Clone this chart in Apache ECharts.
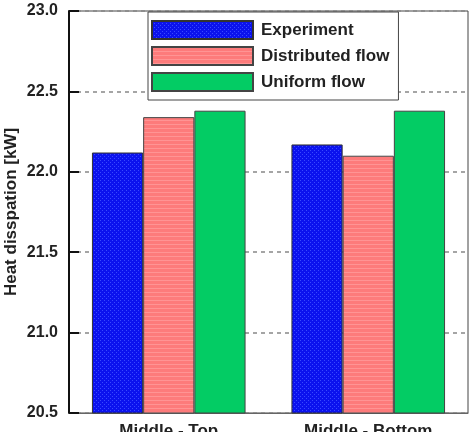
<!DOCTYPE html>
<html>
<head>
<meta charset="utf-8">
<script src="https://cdn.jsdelivr.net/npm/echarts@6/dist/echarts.min.js"></script>
<style>
  html, body { margin: 0; padding: 0; background: #fff; }
  #chart { width: 470px; height: 432px; }
</style>
</head>
<body>
<div id="chart"></div>
<script>
var categories = ['Middle - Top', 'Middle - Bottom']
var seriesNames = ['Experiment', 'Distributed flow', 'Uniform flow']
var experiment = [22.12, 22.17]
var distributed = [22.34, 22.10]
var uniform = [22.38, 22.38]

// small fill patterns like the original hatch
function makePattern(bg, fg, kind) {
    var c = document.createElement('canvas')
    c.width = 4
    c.height = 4
    var ctx = c.getContext('2d')
    ctx.fillStyle = bg
    ctx.fillRect(0, 0, 4, 4)
    ctx.fillStyle = fg
    if (kind === 'dots') {
        ctx.fillRect(0, 0, 1, 1)
        ctx.fillRect(2, 2, 1, 1)
    } else {
        ctx.fillRect(0, 0, 4, 1)
    }
    return c
}

var bluePat = makePattern('#0b12ee', '#3848ff', 'dots')
var pinkPat = makePattern('#fd7b7b', '#ff9494', 'lines')

var font = 'Arial, "Liberation Sans", sans-serif'

var myChart = echarts.init(document.getElementById('chart'))
var option = {
    animation: false,
    textStyle: { fontFamily: font },
    grid: {
        left: 69,
        right: 2,
        top: 11,
        bottom: 19,
        containLabel: false,
        outerBoundsMode: 'none',
        show: true,
        borderColor: '#444',
        borderWidth: 1
    },
    legend: {
        orient: 'vertical',
        left: 148,
        top: 12,
        padding: [8, 9, 8, 3],
        backgroundColor: '#fff',
        borderColor: '#444',
        borderWidth: 1,
        itemWidth: 101,
        itemHeight: 18,
        itemGap: 6,
        icon: 'rect',
        data: seriesNames,
        textStyle: {
            fontSize: 17,
            fontWeight: 'bold',
            lineHeight: 18,
            color: '#222',
            fontFamily: font,
            padding: [0, 0, 0, 3]
        }
    },
    xAxis: {
        type: 'category',
        data: categories,
        axisLine: { lineStyle: { color: '#666', width: 1 } },
        axisTick: { show: false },
        axisLabel: {
            fontSize: 17,
            fontWeight: 'bold',
            color: '#222',
            margin: 10
        }
    },
    yAxis: {
        type: 'value',
        min: 20.5,
        max: 23,
        interval: 0.5,
        name: 'Heat disspation [kW]',
        nameLocation: 'middle',
        nameGap: 49,
        nameMoveOverlap: false,
        nameTextStyle: {
            fontSize: 17,
            fontWeight: 'bold',
            color: '#222'
        },
        axisLine: { show: true, lineStyle: { color: '#111', width: 2 } },
        axisTick: { show: true, inside: true, length: 10, lineStyle: { color: '#111', width: 2 } },
        axisLabel: {
            fontSize: 16,
            fontWeight: 'bold',
            color: '#222',
            margin: 11,
            formatter: function(v) { return v.toFixed(1) }
        },
        splitLine: {
            show: true,
            lineStyle: { color: '#888', type: [4, 4], width: 1.5 }
        }
    },
    series: [{
        name: 'Experiment',
        type: 'bar',
        data: experiment,
        barGap: '0%',
        barCategoryGap: '23%',
        itemStyle: {
            color: { image: bluePat, repeat: 'repeat' },
            borderColor: '#333',
            borderWidth: 1
        }
    }, {
        name: 'Distributed flow',
        type: 'bar',
        data: distributed,
        itemStyle: {
            color: { image: pinkPat, repeat: 'repeat' },
            borderColor: '#444',
            borderWidth: 1
        }
    }, {
        name: 'Uniform flow',
        type: 'bar',
        data: uniform,
        itemStyle: {
            color: '#03cc64',
            borderColor: '#444',
            borderWidth: 1
        }
    }]
}
myChart.setOption(option)
</script>
</body>
</html>
